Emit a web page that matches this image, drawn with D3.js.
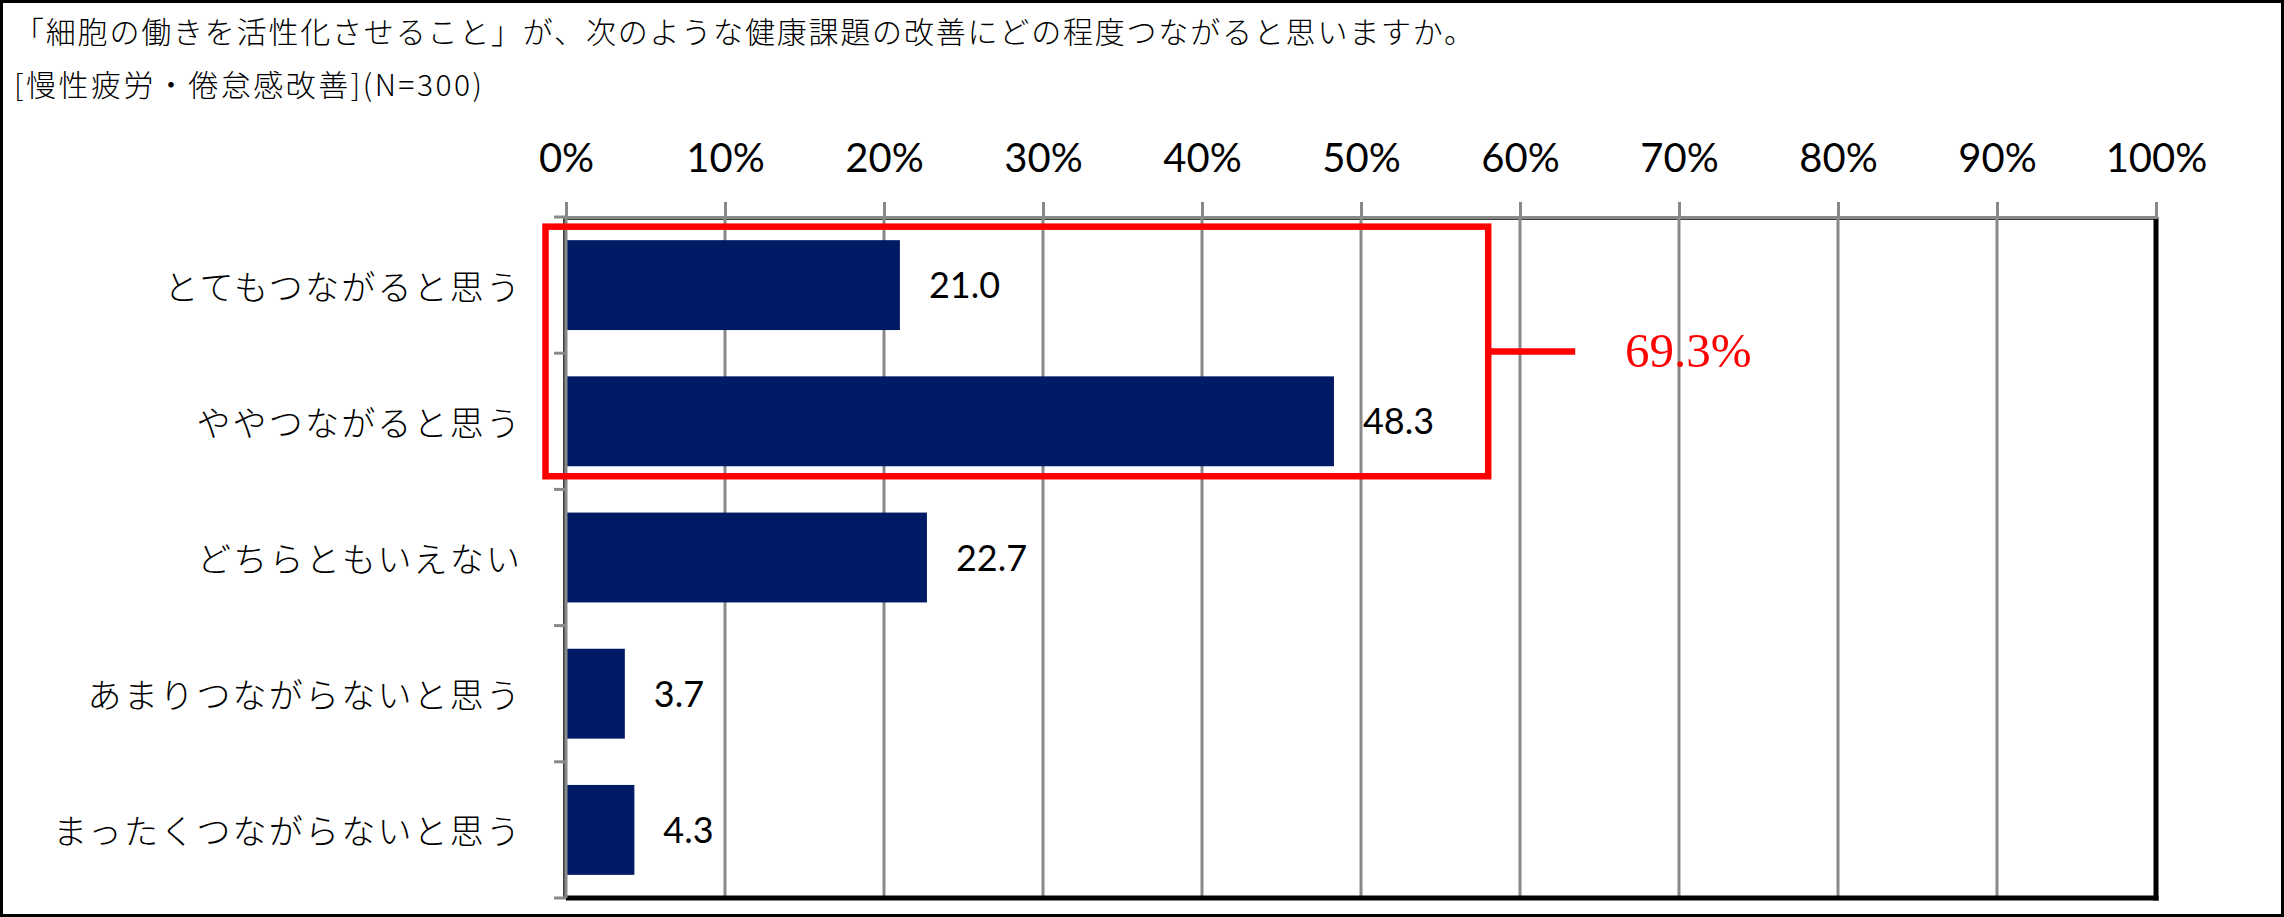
<!DOCTYPE html>
<html><head><meta charset="utf-8">
<script src="https://cdn.jsdelivr.net/npm/d3@7/dist/d3.min.js"></script>
<style>html,body{margin:0;padding:0;background:#fff;}svg{display:block;}</style>
</head><body>
<script>
const titleLine1 = "「細胞の働きを活性化させること」が、次のような健康課題の改善にどの程度つながると思いますか。";
const titleLine2 = "[慢性疲労・倦怠感改善](N=300)";
const categories = ["とてもつながると思う","ややつながると思う","どちらともいえない","あまりつながらないと思う","まったくつながらないと思う"];
const values = [21.0, 48.3, 22.7, 3.7, 4.3];
const xTickValues = [0,10,20,30,40,50,60,70,80,90,100];
const highlightLabel = "69.3%";
const highlightCats = ["とてもつながると思う","ややつながると思う"];

const W = 2284, H = 917;
const m = {left:566, right:2156, top:217, bottom:898};
const svg = d3.select("body").append("svg").attr("width",W).attr("height",H);
svg.append("rect").attr("x",0).attr("y",0).attr("width",W).attr("height",H).attr("fill","#fff");

const x = d3.scaleLinear().domain([0,100]).range([m.left,m.right]);
const y = d3.scaleBand().domain(categories).range([m.top,m.bottom]).paddingInner(0.34).paddingOuter(0.17);
const GRAY = "#898989";
const cjk = "'Noto Sans CJK JP','Noto Sans CJK SC',sans-serif";

// titles
svg.append("text").attr("x",14).attr("y",43).attr("font-family",cjk).attr("font-size",30).attr("font-weight",300)
  .attr("textLength",1460).attr("lengthAdjust","spacing").attr("fill","#000").text(titleLine1);
svg.append("text").attr("x",14).attr("y",96).attr("font-family",cjk).attr("font-size",30).attr("font-weight",300)
  .attr("textLength",468).attr("lengthAdjust","spacing").attr("fill","#000").text(titleLine2);

// plot border (thin)
svg.append("rect").attr("x",m.left-2).attr("y",m.top+2).attr("width",m.right-m.left+2).attr("height",m.bottom-m.top-2)
  .attr("fill","none").attr("stroke","#000").attr("stroke-width",1.5);

// gridlines
svg.append("g").selectAll("line").data(xTickValues.filter(d=>d>0&&d<100)).join("line")
  .attr("x1",d=>x(d)).attr("x2",d=>x(d)).attr("y1",m.top).attr("y2",m.bottom)
  .attr("stroke",GRAY).attr("stroke-width",3);

// thick right & bottom border
svg.append("line").attr("x1",m.right).attr("x2",m.right).attr("y1",m.top).attr("y2",m.bottom+2.5)
  .attr("stroke","#000").attr("stroke-width",5);
svg.append("line").attr("x1",m.left).attr("x2",m.right+2.5).attr("y1",m.bottom).attr("y2",m.bottom)
  .attr("stroke","#000").attr("stroke-width",5);

// bars
svg.append("g").selectAll("rect").data(values).join("rect")
  .attr("x",x(0)).attr("y",(d,i)=>y(categories[i]))
  .attr("width",d=>x(d)-x(0)).attr("height",y.bandwidth()).attr("fill","#001a66");

// data labels
svg.append("g").selectAll("text").data(values).join("text")
  .attr("x",d=>x(d)+29).attr("y",(d,i)=>y(categories[i])+y.bandwidth()/2+13)
  .attr("font-family","Lato, 'Open Sans', sans-serif").attr("font-size",36).attr("fill","#000")
  .text(d=>d.toFixed(1));

// top axis
const xAxis = d3.axisTop(x).tickValues(xTickValues).tickSize(15).tickPadding(30).tickFormat(d=>d+"%");
const gx = svg.append("g").attr("transform",`translate(0,${m.top})`).call(xAxis);
gx.select(".domain").attr("stroke",GRAY).attr("stroke-width",3);
gx.selectAll(".tick line").attr("stroke",GRAY).attr("stroke-width",3);
gx.selectAll(".tick text").attr("font-family","Lato, sans-serif").attr("font-size",40).attr("fill","#000");

// left axis (ticks at band boundaries)
const step = y.step();
const bounds = d3.range(categories.length+1).map(i=>m.top+i*step);
svg.append("line").attr("x1",m.left).attr("x2",m.left).attr("y1",m.top).attr("y2",m.bottom)
  .attr("stroke",GRAY).attr("stroke-width",3);
svg.append("g").selectAll("line").data(bounds).join("line")
  .attr("x1",m.left-12).attr("x2",m.left).attr("y1",d=>d).attr("y2",d=>d)
  .attr("stroke",GRAY).attr("stroke-width",3);

// category labels
svg.append("g").selectAll("text").data(categories).join("text")
  .attr("x",520+2.2).attr("y",d=>y(d)+y.bandwidth()/2)
  .attr("text-anchor","end").attr("dominant-baseline","central")
  .attr("font-family",cjk).attr("font-size",34).attr("font-weight",300).attr("letter-spacing","2.2px").attr("fill","#000")
  .text(d=>d);

// highlight box
const bx1 = x(0)-20.5, bx2 = x(58);
const by1 = y(highlightCats[0])-13.5, by2 = y(highlightCats[1])+y.bandwidth()+10;
svg.append("rect").attr("x",bx1).attr("y",by1).attr("width",bx2-bx1).attr("height",by2-by1)
  .attr("fill","none").attr("stroke","#f00").attr("stroke-width",6.5);
const bym = (by1+by2)/2;
svg.append("line").attr("x1",bx2).attr("x2",bx2+87).attr("y1",bym).attr("y2",bym)
  .attr("stroke","#f00").attr("stroke-width",6.5);
svg.append("text").attr("x",1625).attr("y",bym+16).attr("font-family","'Liberation Serif','Times New Roman',serif")
  .attr("font-size",49).attr("fill","#f00").text(highlightLabel);

// outer frame
svg.append("rect").attr("x",1.5).attr("y",1.5).attr("width",W-3).attr("height",H-3)
  .attr("fill","none").attr("stroke","#000").attr("stroke-width",3);
</script>
</body></html>
